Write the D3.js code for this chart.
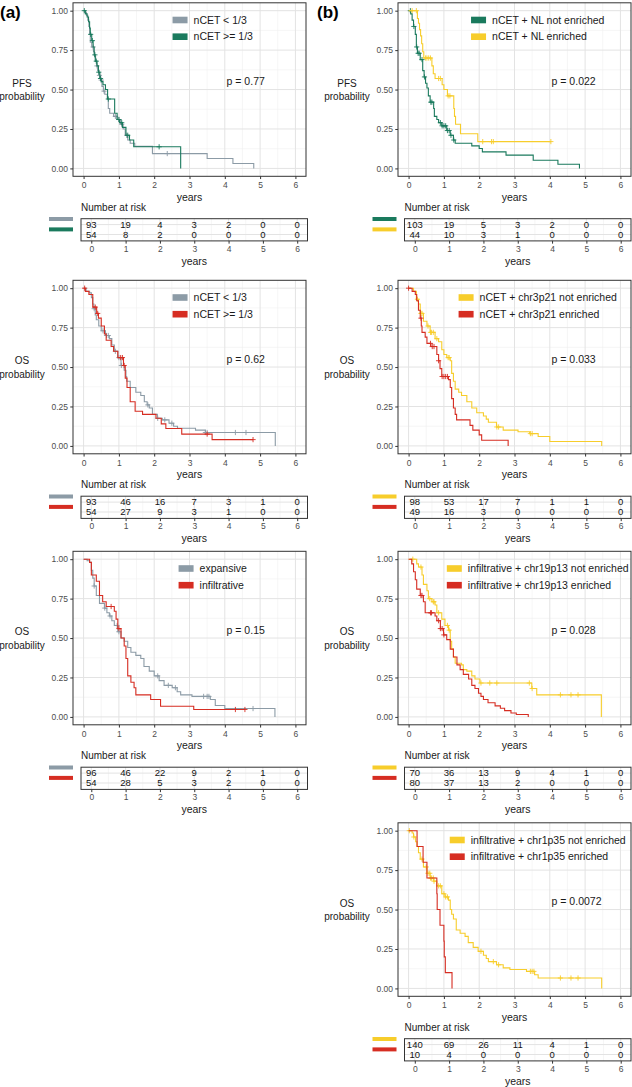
<!DOCTYPE html>
<html><head><meta charset="utf-8">
<script src="https://cdn.jsdelivr.net/npm/d3@7"></script>
<style>
body{margin:0;background:#fff}
svg{display:block}
text{font-family:"Liberation Sans",Arial,Helvetica,sans-serif}
</style>
</head><body>
<svg id="chart" width="632" height="1087"></svg>
<script>
// ---------- shared axis data ----------
const yearTicks = [0, 1, 2, 3, 4, 5, 6];
const yearTickLabels = ["0", "1", "2", "3", "4", "5", "6"];
const probTicks = [0, 0.25, 0.5, 0.75, 1];
const probTickLabels = ["0.00", "0.25", "0.50", "0.75", "1.00"];

// ---------- (a) row 1 : PFS, nCET < 1/3 vs nCET >= 1/3 ----------
const a1Labels = ["nCET < 1/3", "nCET >= 1/3"];
const a1LowSteps = [[0.04,0.99],[0.08,0.97],[0.12,0.94],[0.15,0.9],[0.17,0.85],[0.19,0.8],[0.23,0.77],[0.28,0.74],[0.31,0.71],[0.34,0.68],[0.37,0.65],[0.4,0.62],[0.44,0.59],[0.48,0.56],[0.52,0.52],[0.56,0.49],[0.6,0.47],[0.67,0.44],[0.7,0.38],[0.74,0.35],[0.85,0.33],[0.95,0.31],[1.05,0.28],[1.12,0.25],[1.18,0.21],[1.25,0.18],[1.32,0.16],[1.45,0.14],[1.95,0.094],[3.5,0.063],[4.23,0.031],[4.82,0]];
const a1LowCens = [0.27,0.38,0.45,0.5,0.58,0.9,1.0,1.08,1.22,2.37];
const a1HighSteps = [[0.05,0.98],[0.1,0.96],[0.14,0.93],[0.17,0.89],[0.19,0.85],[0.23,0.81],[0.27,0.77],[0.3,0.72],[0.33,0.68],[0.38,0.65],[0.42,0.61],[0.46,0.57],[0.5,0.55],[0.55,0.53],[0.62,0.5],[0.68,0.44],[0.88,0.35],[0.95,0.31],[1.02,0.29],[1.1,0.26],[1.2,0.21],[1.3,0.18],[1.42,0.137],[2.75,0]];
const a1HighCens = [0.02,0.2,0.25,0.32,0.36,0.43,0.48,0.7,1.0,1.08,1.25,2.14];
const a1LowRisk = [93,19,4,3,2,0,0];
const a1HighRisk = [54,8,2,0,0,0,0];

// ---------- (b) row 1 : PFS, nCET + NL ----------
const b1Labels = ["nCET + NL not enriched", "nCET + NL enriched"];
const b1NotSteps = [[0.06,0.98],[0.1,0.94],[0.14,0.9],[0.19,0.85],[0.22,0.77],[0.25,0.73],[0.33,0.69],[0.4,0.62],[0.44,0.58],[0.48,0.54],[0.52,0.51],[0.56,0.46],[0.61,0.42],[0.71,0.38],[0.73,0.33],[0.8,0.31],[0.85,0.29],[0.94,0.27],[1.08,0.24],[1.18,0.21],[1.27,0.18],[1.32,0.16],[1.79,0.143],[2.0,0.126],[2.09,0.105],[2.76,0.084],[3.53,0.052],[4.23,0.026],[4.84,0]];
const b1NotCens = [0.05,0.15,0.23,0.27,0.3,0.38,0.45,0.63,0.66,0.9,0.95,1.0,1.05,1.1,1.15,1.2,1.28];
const b1EnrSteps = [[0.25,0.95],[0.28,0.92],[0.31,0.88],[0.34,0.84],[0.37,0.79],[0.4,0.74],[0.43,0.7],[0.66,0.65],[0.7,0.6],[0.75,0.57],[0.95,0.53],[1.0,0.5],[1.1,0.46],[1.28,0.38],[1.3,0.33],[1.33,0.28],[1.47,0.22],[1.96,0.17]];
const b1EnrCens = [0.1,0.22,0.48,0.52,0.57,0.62,0.85,0.9,1.12,1.17,2.1,2.35,2.4,4.03];
const b1NotRisk = [103,19,5,3,2,0,0];
const b1EnrRisk = [44,10,3,1,0,0,0];

// ---------- (a) row 2 : OS, nCET ----------
const a2Labels = ["nCET < 1/3", "nCET >= 1/3"];
const a2LowSteps = [[0.07,0.98],[0.17,0.97],[0.22,0.94],[0.26,0.9],[0.29,0.87],[0.33,0.83],[0.36,0.8],[0.43,0.76],[0.5,0.73],[0.62,0.7],[0.73,0.68],[0.8,0.64],[0.87,0.6],[0.97,0.56],[1.06,0.51],[1.15,0.48],[1.2,0.44],[1.22,0.41],[1.32,0.37],[1.48,0.34],[1.62,0.32],[1.72,0.28],[1.8,0.26],[1.86,0.24],[1.95,0.2],[2.09,0.175],[2.23,0.165],[2.42,0.144],[2.55,0.125],[2.66,0.112],[3.17,0.1],[3.45,0.085],[5.43,0]];
const a2LowCens = [0.3,0.55,0.65,0.7,0.9,1.0,1.07,1.82,2.1,2.3,2.5,3.45,3.5,4.3,4.6];
const a2HighSteps = [[0.05,0.98],[0.15,0.96],[0.26,0.88],[0.37,0.84],[0.42,0.81],[0.5,0.76],[0.59,0.71],[0.64,0.67],[0.78,0.63],[0.85,0.6],[0.97,0.56],[1.13,0.51],[1.18,0.43],[1.23,0.37],[1.32,0.28],[1.46,0.22],[1.67,0.2],[2.05,0.175],[2.2,0.14],[2.33,0.11],[2.78,0.075],[3.64,0.04]];
const a2HighCens = [0.03,0.33,0.4,1.05,1.1,1.15,3.5,4.8];
const a2LowRisk = [93,46,16,7,3,1,0];
const a2HighRisk = [54,27,9,3,1,0,0];

// ---------- (b) row 2 : OS, nCET + chr3p21 ----------
const b2Labels = ["nCET + chr3p21 not enriched", "nCET + chr3p21 enriched"];
const b2NotSteps = [[0.14,0.98],[0.22,0.93],[0.28,0.9],[0.33,0.84],[0.42,0.79],[0.52,0.76],[0.61,0.72],[0.75,0.68],[0.85,0.66],[0.94,0.61],[1.0,0.58],[1.08,0.56],[1.18,0.54],[1.22,0.46],[1.27,0.41],[1.32,0.36],[1.42,0.34],[1.5,0.32],[1.65,0.28],[1.79,0.24],[1.93,0.21],[2.12,0.19],[2.2,0.17],[2.26,0.15],[2.49,0.12],[2.68,0.1],[3.1,0.09],[3.43,0.078],[3.67,0.06],[4.0,0.028],[5.47,0]];
const b2NotCens = [0.25,0.35,0.38,0.55,0.62,0.65,0.7,0.8,1.12,1.15,2.5,2.55,3.45,3.5];
const b2EnrSteps = [[0.1,0.98],[0.19,0.96],[0.23,0.92],[0.28,0.86],[0.33,0.81],[0.36,0.76],[0.38,0.72],[0.47,0.69],[0.52,0.65],[0.63,0.63],[0.8,0.58],[0.85,0.54],[0.89,0.49],[0.94,0.44],[1.13,0.42],[1.18,0.37],[1.22,0.3],[1.27,0.24],[1.32,0.2],[1.36,0.165],[1.74,0.13],[1.82,0.1],[2.0,0.07],[2.07,0.036],[2.82,0]];
const b2EnrCens = [0.0,0.35,0.62,0.67,0.72,0.85,0.95,1.0,1.05,1.1];
const b2NotRisk = [98,53,17,7,1,1,0];
const b2EnrRisk = [49,16,3,0,0,0,0];

// ---------- (a) row 3 : OS, growth pattern ----------
const a3Labels = ["expansive", "infiltrative"];
const a3ExpSteps = [[0.1,0.99],[0.17,0.98],[0.22,0.93],[0.26,0.88],[0.3,0.83],[0.36,0.77],[0.45,0.72],[0.59,0.69],[0.66,0.66],[0.73,0.64],[0.8,0.61],[0.87,0.58],[0.97,0.54],[1.06,0.5],[1.15,0.48],[1.25,0.44],[1.34,0.41],[1.48,0.39],[1.62,0.37],[1.71,0.32],[1.86,0.29],[2.0,0.26],[2.14,0.23],[2.28,0.2],[2.51,0.185],[2.65,0.16],[2.75,0.14],[3.07,0.13],[3.59,0.11],[3.73,0.072],[4.0,0.053],[5.42,0]];
const a3ExpCens = [0.3,0.6,0.75,0.95,1.0,2.1,2.4,2.6,3.4,3.5,3.55,4.8];
const a3InfSteps = [[0.17,0.98],[0.22,0.9],[0.36,0.86],[0.45,0.77],[0.54,0.73],[0.64,0.7],[0.87,0.67],[0.92,0.62],[0.97,0.56],[1.06,0.5],[1.15,0.45],[1.2,0.37],[1.25,0.26],[1.34,0.22],[1.43,0.185],[1.48,0.14],[1.9,0.11],[2.18,0.068],[3.12,0.047]];
const a3InfCens = [0.78,1.0,4.3,4.57];
const a3ExpRisk = [96,46,22,9,2,1,0];
const a3InfRisk = [54,28,5,3,2,0,0];

// ---------- (b) row 3 : OS, infiltrative + chr19p13 ----------
const b3Labels = ["infiltrative + chr19p13 not enriched", "infiltrative + chr19p13 enriched"];
const b3NotSteps = [[0.23,0.97],[0.28,0.95],[0.38,0.9],[0.42,0.84],[0.52,0.8],[0.56,0.75],[0.66,0.73],[0.75,0.71],[0.8,0.66],[0.94,0.62],[1.03,0.58],[1.13,0.55],[1.18,0.48],[1.22,0.43],[1.27,0.38],[1.32,0.34],[1.5,0.33],[1.55,0.3],[1.65,0.29],[1.79,0.26],[1.88,0.24],[2.02,0.215],[3.49,0.18],[3.63,0.14],[5.46,0]];
const b3NotCens = [0.12,0.35,0.6,0.7,0.72,0.85,1.1,1.15,2.05,2.3,2.5,3.42,3.5,4.3,4.6,4.8];
const b3EnrSteps = [[0.09,0.97],[0.14,0.92],[0.19,0.87],[0.23,0.81],[0.33,0.77],[0.42,0.73],[0.47,0.66],[0.75,0.64],[0.8,0.61],[0.9,0.56],[0.99,0.52],[1.08,0.49],[1.18,0.43],[1.27,0.38],[1.37,0.33],[1.46,0.3],[1.55,0.27],[1.7,0.24],[1.79,0.2],[1.88,0.18],[1.98,0.15],[2.05,0.13],[2.12,0.11],[2.25,0.09],[2.45,0.07],[2.6,0.055],[2.72,0.04],[2.9,0.025],[3.05,0.015],[3.39,0]];
const b3EnrCens = [0.35,0.38,0.62,0.65,0.85,0.9,0.95,1.0];
const b3NotRisk = [70,36,13,9,4,1,0];
const b3EnrRisk = [80,37,13,2,0,0,0];

// ---------- (b) row 4 : OS, infiltrative + chr1p35 ----------
const b4Labels = ["infiltrative + chr1p35 not enriched", "infiltrative + chr1p35 enriched"];
const b4NotSteps = [[0.1,0.985],[0.14,0.96],[0.2,0.93],[0.24,0.9],[0.28,0.86],[0.33,0.82],[0.42,0.77],[0.52,0.73],[0.61,0.7],[0.71,0.68],[0.8,0.65],[0.94,0.6],[1.03,0.58],[1.13,0.56],[1.18,0.5],[1.22,0.47],[1.27,0.44],[1.35,0.37],[1.46,0.35],[1.6,0.33],[1.69,0.29],[1.83,0.26],[1.97,0.235],[2.12,0.21],[2.2,0.19],[2.26,0.17],[2.49,0.15],[2.68,0.13],[2.87,0.12],[3.34,0.108],[3.57,0.087],[3.67,0.066],[5.47,0]];
const b4NotCens = [0.02,0.15,0.38,0.5,0.55,0.6,0.62,0.65,0.7,0.72,0.85,0.9,1.0,1.05,1.1,2.05,2.4,2.55,3.45,3.5,3.55,4.3,4.6,4.8];
const b4EnrSteps = [[0.24,0.9],[0.41,0.8],[0.52,0.7],[0.8,0.6],[0.81,0.5],[0.89,0.4],[1.0,0.3],[1.01,0.2],[1.04,0.1],[1.23,0]];
const b4EnrCens = [];
const b4NotRisk = [140,69,26,11,4,1,0];
const b4EnrRisk = [10,4,0,0,0,0,0];

// ---------- p values ----------
const pValues = ["p = 0.77", "p = 0.022", "p = 0.62", "p = 0.033", "p = 0.15", "p = 0.028", "p = 0.0072"];

// ---------- colours ----------
const GREY = "#8c9ba6", GREEN = "#1a7a5d", RED = "#d62d22", YELLOW = "#f7cd2b";

// ---------- panel list (layout + references to data) ----------
const panels = [
  {col:0,row:0,   yTitle:["PFS","probability"], p:pValues[0], labels:a1Labels, colors:[GREY,GREEN],
   curves:[[a1LowSteps,a1LowCens],[a1HighSteps,a1HighCens]], risk:[a1LowRisk,a1HighRisk]},
  {col:1,row:0,   yTitle:["PFS","probability"], p:pValues[1], labels:b1Labels, colors:[GREEN,YELLOW],
   curves:[[b1NotSteps,b1NotCens],[b1EnrSteps,b1EnrCens]], risk:[b1NotRisk,b1EnrRisk]},
  {col:0,row:277.5, yTitle:["OS","probability"], p:pValues[2], labels:a2Labels, colors:[GREY,RED],
   curves:[[a2LowSteps,a2LowCens],[a2HighSteps,a2HighCens]], risk:[a2LowRisk,a2HighRisk]},
  {col:1,row:277.5, yTitle:["OS","probability"], p:pValues[3], labels:b2Labels, colors:[YELLOW,RED],
   curves:[[b2NotSteps,b2NotCens],[b2EnrSteps,b2EnrCens]], risk:[b2NotRisk,b2EnrRisk]},
  {col:0,row:548.5, yTitle:["OS","probability"], p:pValues[4], labels:a3Labels, colors:[GREY,RED],
   curves:[[a3ExpSteps,a3ExpCens],[a3InfSteps,a3InfCens]], risk:[a3ExpRisk,a3InfRisk]},
  {col:1,row:548.5, yTitle:["OS","probability"], p:pValues[5], labels:b3Labels, colors:[YELLOW,RED],
   curves:[[b3NotSteps,b3NotCens],[b3EnrSteps,b3EnrCens]], risk:[b3NotRisk,b3EnrRisk]},
  {col:1,row:820, yTitle:["OS","probability"], p:pValues[6], labels:b4Labels, colors:[YELLOW,RED],
   curves:[[b4NotSteps,b4NotCens],[b4EnrSteps,b4EnrCens]], risk:[b4NotRisk,b4EnrRisk]}
];

const svg = d3.select("#chart");
const TICK_COL = "#4d4d4d", AX_COL = "#333333";

svg.append("text").attr("x", 0).attr("y", 12).attr("dy", "0.35em")
  .style("font-size", "17px").style("font-weight", "bold").text("(a)");
svg.append("text").attr("x", 317).attr("y", 12).attr("dy", "0.35em")
  .style("font-size", "17px").style("font-weight", "bold").text("(b)");

function survAt(steps, t) {
  let s = 1;
  for (const [tt, ss] of steps) { if (tt <= t) s = ss; else break; }
  return s;
}

function styleAxis(a) {
  a.select(".domain").remove();
  a.selectAll(".tick line").attr("stroke", AX_COL);
  a.selectAll(".tick text").attr("fill", TICK_COL).style("font-size", "8.5px")
    .style("font-family", '"Liberation Sans",Arial,sans-serif');
}

function drawPanel(p) {
  const L = p.col === 0 ? 73 : 398, W = 233, R = p.row;
  const top = 2.8 + R, bot = 176.3 + R;
  const x = d3.scaleLinear().domain([-0.3, 6.3]).range([L, L + W]);
  const y = d3.scaleLinear().domain([-0.05, 1.05]).range([bot, top]);
  const g = svg.append("g");

  // grid
  const minorX = d3.range(0.5, 6, 1), minorY = [0.125, 0.375, 0.625, 0.875];
  g.selectAll(null).data(minorX).enter().append("line")
    .attr("x1", d => x(d)).attr("x2", d => x(d)).attr("y1", top).attr("y2", bot)
    .attr("stroke", "#f0f0f0").attr("stroke-width", 0.6);
  g.selectAll(null).data(minorY).enter().append("line")
    .attr("y1", d => y(d)).attr("y2", d => y(d)).attr("x1", L).attr("x2", L + W)
    .attr("stroke", "#f0f0f0").attr("stroke-width", 0.6);
  g.selectAll(null).data(yearTicks).enter().append("line")
    .attr("x1", d => x(d)).attr("x2", d => x(d)).attr("y1", top).attr("y2", bot)
    .attr("stroke", "#e3e3e3").attr("stroke-width", 1);
  g.selectAll(null).data(probTicks).enter().append("line")
    .attr("y1", d => y(d)).attr("y2", d => y(d)).attr("x1", L).attr("x2", L + W)
    .attr("stroke", "#e3e3e3").attr("stroke-width", 1);

  // axes
  const ax = g.append("g").attr("transform", `translate(0,${bot})`)
    .call(d3.axisBottom(x).tickValues(yearTicks).tickSize(2.75).tickPadding(3)
      .tickFormat((d, i) => yearTickLabels[i]));
  const ay = g.append("g").attr("transform", `translate(${L},0)`)
    .call(d3.axisLeft(y).tickValues(probTicks).tickSize(2.75).tickPadding(2.2)
      .tickFormat((d, i) => probTickLabels[i]));
  styleAxis(ax); styleAxis(ay);

  // curves
  const line = d3.line().x(d => x(d[0])).y(d => y(d[1])).curve(d3.curveStepAfter);
  p.curves.forEach((c, i) => {
    const [steps, cens] = c;
    const last = steps[steps.length - 1];
    const end = Math.max(last[0], cens.length ? d3.max(cens) : 0);
    const pts = [[0, 1], ...steps];
    if (end > last[0]) pts.push([end, last[1]]);
    g.append("path").attr("d", line(pts)).attr("fill", "none")
      .attr("stroke", p.colors[i]).attr("stroke-width", 1.1);
    g.selectAll(null).data(cens).enter().append("path")
      .attr("transform", d => `translate(${x(d)},${y(survAt(steps, d))})`)
      .attr("d", "M-2.6,0H2.6M0,-2.6V2.6").attr("stroke", p.colors[i]).attr("stroke-width", 0.9);
  });

  // panel border
  g.append("rect").attr("x", L).attr("y", top).attr("width", W).attr("height", bot - top)
    .attr("fill", "none").attr("stroke", AX_COL).attr("stroke-width", 1);

  // legend
  const lg = g.append("g");
  p.labels.forEach((lab, i) => {
    lg.append("rect").attr("x", 0).attr("y", i * 16.7 - 3.3).attr("width", 15).attr("height", 6.6)
      .attr("fill", p.colors[i]);
    lg.append("text").attr("x", 21).attr("y", i * 16.7).attr("dy", "0.35em")
      .style("font-size", "10.5px").attr("fill", "#1a1a1a").text(lab);
  });
  const bw = lg.node().getBBox().width;
  lg.attr("transform", `translate(${L + 0.6 * W - bw / 2},${20 + R})`);

  // p value
  g.append("text").attr("x", x(4.05)).attr("y", y(0.55)).attr("dy", "0.35em")
    .style("font-size", "10.5px").attr("fill", "#1a1a1a").text(p.p);

  // y title
  p.yTitle.forEach((t, i) => {
    g.append("text").attr("x", L - 51).attr("y", R + 83 + i * 13.5).attr("dy", "0.35em")
      .attr("text-anchor", "middle").style("font-size", "10px").attr("fill", "#1a1a1a").text(t);
  });

  // x title
  g.append("text").attr("x", L + W / 2).attr("y", R + 197.2).attr("dy", "0.35em")
    .attr("text-anchor", "middle").style("font-size", "10.5px").attr("fill", "#1a1a1a").text("years");

  // ---------- risk table ----------
  const TL = p.col === 0 ? 81 : 404.5, TW = 226.5;
  const tTop = R + 218.7, tBot = R + 240.9;
  const xt = d3.scaleLinear().domain([-0.3, 6.3]).range([TL, TL + TW]);
  const rowY = [R + 224.6, R + 234.5];

  g.append("text").attr("x", TL).attr("y", R + 207).attr("dy", "0.35em")
    .style("font-size", "10px").attr("fill", "#1a1a1a").text("Number at risk");

  g.selectAll(null).data(minorX).enter().append("line")
    .attr("x1", d => xt(d)).attr("x2", d => xt(d)).attr("y1", tTop).attr("y2", tBot)
    .attr("stroke", "#f0f0f0").attr("stroke-width", 0.6);
  g.selectAll(null).data(yearTicks).enter().append("line")
    .attr("x1", d => xt(d)).attr("x2", d => xt(d)).attr("y1", tTop).attr("y2", tBot)
    .attr("stroke", "#e3e3e3").attr("stroke-width", 1);
  g.selectAll(null).data(rowY).enter().append("line")
    .attr("x1", TL).attr("x2", TL + TW).attr("y1", d => d).attr("y2", d => d)
    .attr("stroke", "#e3e3e3").attr("stroke-width", 1);

  p.risk.forEach((vals, i) => {
    g.selectAll(null).data(vals).enter().append("text")
      .attr("x", (d, j) => xt(yearTicks[j])).attr("y", rowY[i]).attr("dy", "0.35em")
      .attr("text-anchor", "middle").style("font-size", "9.5px").attr("fill", "#111")
      .text(d => d);
    g.append("rect").attr("x", TL - 32).attr("y", [R + 219, R + 229.4][i] - 2)
      .attr("width", 24).attr("height", 4).attr("fill", p.colors[i]);
  });

  g.append("rect").attr("x", TL).attr("y", tTop).attr("width", TW).attr("height", tBot - tTop)
    .attr("fill", "none").attr("stroke", AX_COL).attr("stroke-width", 1);

  const tax = g.append("g").attr("transform", `translate(0,${tBot})`)
    .call(d3.axisBottom(xt).tickValues(yearTicks).tickSize(2.75).tickPadding(2.2)
      .tickFormat((d, i) => yearTickLabels[i]));
  styleAxis(tax);

  g.append("text").attr("x", TL + TW / 2).attr("y", R + 261).attr("dy", "0.35em")
    .attr("text-anchor", "middle").style("font-size", "10.5px").attr("fill", "#1a1a1a").text("years");
}

panels.forEach(drawPanel);
</script>
</body></html>
